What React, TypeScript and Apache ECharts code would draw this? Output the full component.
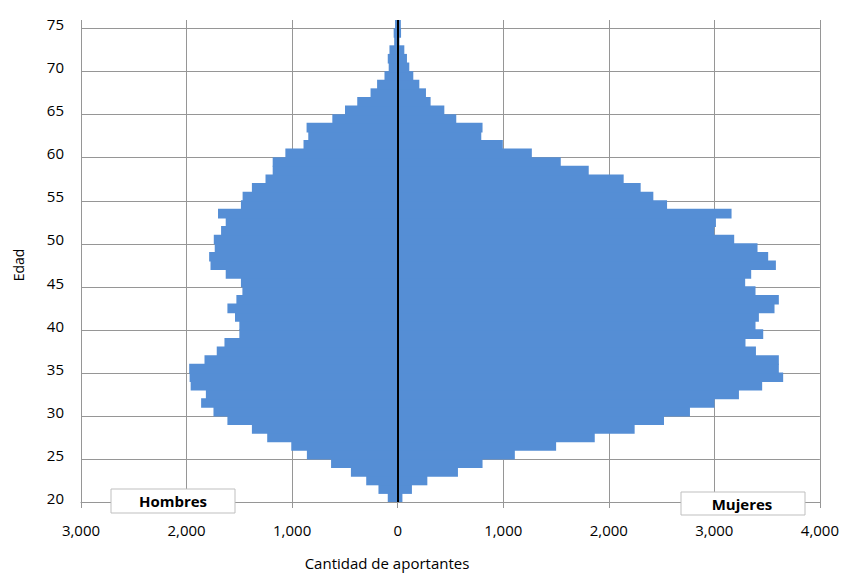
import React, { useEffect, useRef } from "react";
import * as echarts from "echarts";

const edades = [
  "20", "21", "22", "23", "24", "25", "26", "27", "28", "29",
  "30", "31", "32", "33", "34", "35", "36", "37", "38", "39",
  "40", "41", "42", "43", "44", "45", "46", "47", "48", "49",
  "50", "51", "52", "53", "54", "55", "56", "57", "58", "59",
  "60", "61", "62", "63", "64", "65", "66", "67", "68", "69",
  "70", "71", "72", "73", "74", "75",
];

const hombres = [
  94, 182, 298, 443, 631, 860, 1008, 1236, 1381, 1613,
  1745, 1862, 1817, 1961, 1971, 1975, 1830, 1714, 1641, 1500,
  1500, 1541, 1613, 1528, 1471, 1485, 1629, 1773, 1786, 1733,
  1742, 1673, 1629, 1702, 1485, 1469, 1381, 1252, 1184, 1184,
  1064, 892, 847, 863, 619, 499, 383, 257, 195, 125,
  85, 94, 78, 33, 38, 25,
];

const mujeres = [
  45, 135, 281, 571, 804, 1110, 1501, 1867, 2245, 2523,
  2769, 3002, 3233, 3453, 3652, 3611, 3611, 3394, 3295, 3463,
  3390, 3422, 3570, 3611, 3390, 3292, 3349, 3583, 3510, 3409,
  3188, 2999, 3015, 3163, 2552, 2422, 2302, 2141, 1810, 1545,
  1271, 996, 792, 804, 555, 442, 312, 268, 205, 148,
  110, 88, 63, 17, 32, 30,
];

const xMin = -3000;
const xMax = 4000;
const xStep = 1000;

const FONT = "'Open Sans', 'Noto Sans', sans-serif";
const GRID_COLOR = "#969696";
const BAR_COLOR = "#558ed5";

export default function App() {
  const ref = useRef<HTMLDivElement>(null);

  useEffect(() => {
    if (!ref.current) return;
    const chart = echarts.init(ref.current, undefined, { renderer: "svg" });
    const fmt = (v: number) => Math.abs(v).toLocaleString("en-US");
    chart.setOption({
      animation: false,
      backgroundColor: "#ffffff",
      grid: { left: 81, right: 19, top: 20, bottom: 72, containLabel: false },
      xAxis: {
        type: "value",
        min: xMin,
        max: xMax,
        interval: xStep,
        axisLine: { show: true, lineStyle: { color: GRID_COLOR, width: 1 } },
        axisTick: { show: true, length: 6, lineStyle: { color: GRID_COLOR, width: 1 } },
        axisLabel: {
          formatter: fmt,
          color: "#000",
          fontFamily: FONT,
          fontSize: 15,
          margin: 20,
        },
        splitLine: { show: true, lineStyle: { color: GRID_COLOR, width: 1 } },
      },
      yAxis: {
        type: "category",
        data: edades,
        boundaryGap: true,
        axisLine: { show: false },
        axisTick: { show: false },
        axisLabel: {
          interval: 4,
          color: "#000",
          fontFamily: FONT,
          fontSize: 15,
          margin: 17,
        },
        splitLine: {
          show: true,
          interval: 4,
          showMaxLine: false,
          lineStyle: { color: GRID_COLOR, width: 1 },
        },
      },
      series: [
        {
          name: "Hombres",
          type: "bar",
          data: hombres.map((v) => -v),
          barGap: "-100%",
          barWidth: "112%",
          itemStyle: { color: BAR_COLOR },
          silent: true,
        },
        {
          name: "Mujeres",
          type: "bar",
          data: mujeres,
          barGap: "-100%",
          barWidth: "112%",
          itemStyle: { color: BAR_COLOR },
          silent: true,
          markLine: {
            silent: true,
            symbol: "none",
            label: { show: false },
            lineStyle: { color: "#000", width: 2, type: "solid" },
            data: [{ xAxis: 0 }],
          },
        },
      ],
      graphic: [
        {
          type: "text",
          x: 18,
          y: 265,
          rotation: Math.PI / 2,
          z: 100,
          style: {
            text: "Edad",
            fill: "#000",
            font: `14px ${FONT}`,
            align: "center",
            verticalAlign: "middle",
          },
        },
        {
          type: "text",
          x: 387,
          y: 563,
          z: 100,
          style: {
            text: "Cantidad de aportantes",
            fill: "#000",
            font: `15px ${FONT}`,
            align: "center",
            verticalAlign: "middle",
          },
        },
        {
          type: "rect",
          z: 100,
          shape: { x: 111, y: 489, width: 124, height: 24 },
          style: { fill: "#fff", stroke: "#bfbfbf", lineWidth: 1 },
        },
        {
          type: "text",
          x: 173,
          y: 501,
          z: 101,
          style: {
            text: "Hombres",
            fill: "#000",
            font: `bold 15px ${FONT}`,
            align: "center",
            verticalAlign: "middle",
          },
        },
        {
          type: "rect",
          z: 100,
          shape: { x: 681, y: 492, width: 124, height: 23 },
          style: { fill: "#fff", stroke: "#bfbfbf", lineWidth: 1 },
        },
        {
          type: "text",
          x: 742,
          y: 503.5,
          z: 101,
          style: {
            text: "Mujeres",
            fill: "#000",
            font: `bold 15px ${FONT}`,
            align: "center",
            verticalAlign: "middle",
          },
        },
      ],
    });
    return () => chart.dispose();
  }, []);

  return (
    <div
      ref={ref}
      style={{ position: "absolute", left: 0, top: 0, width: 842, height: 574 }}
    />
  );
}
